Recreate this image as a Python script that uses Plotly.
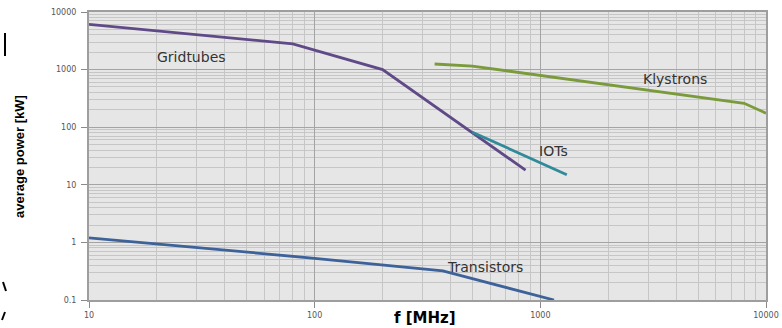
import math
import plotly.graph_objects as go

# Data (frequency in MHz, average power in kW)
grid_f = [10, 80, 200, 860]
grid_p = [6100, 2800, 1000, 18]

kly_f = [340, 500, 8000, 10000]
kly_p = [1250, 1150, 260, 175]

iot_f = [500, 1310]
iot_p = [82, 15]

tr_f = [10, 100, 370, 1150]
tr_p = [1.2, 0.53, 0.32, 0.1]

x_ticks = [10, 100, 1000, 10000]
x_ticktext = ["10", "100", "1000", "10000"]
y_ticks = [0.1, 1, 10, 100, 1000, 10000]
y_ticktext = ["0.1", "1", "10", "100", "1000", "10000"]

labels = ["Gridtubes", "Klystrons", "IOTs", "Transistors"]
label_f = [28.6, 3950, 1140, 570]
label_p = [1650, 690, 38.6, 0.374]

x_minor = [m * d for d in [10, 100, 1000] for m in range(2, 10)]
y_minor = [m * d for d in [0.1, 1, 10, 100, 1000] for m in range(2, 10)]

fig = go.Figure()
lw = 2.8
fig.add_trace(go.Scatter(x=grid_f, y=grid_p, mode="lines", line=dict(color="#5f4a87", width=lw)))
fig.add_trace(go.Scatter(x=kly_f, y=kly_p, mode="lines", line=dict(color="#7a9a3c", width=lw)))
fig.add_trace(go.Scatter(x=iot_f, y=iot_p, mode="lines", line=dict(color="#2f8a9a", width=lw)))
fig.add_trace(go.Scatter(x=tr_f, y=tr_p, mode="lines", line=dict(color="#3d6199", width=lw)))

lab_font = dict(family="DejaVu Sans", size=14, color="#333333")
for txt, x, y in zip(labels, label_f, label_p):
    fig.add_annotation(x=math.log10(x), y=math.log10(y), xref="x", yref="y", text=txt,
                       showarrow=False, font=lab_font, xanchor="center", yanchor="middle")

axis_common = dict(
    type="log", showline=True, linecolor="#9e9e9e", linewidth=2, mirror=True,
    showgrid=True, gridcolor="#a4a4a4", gridwidth=1.3,
    ticks="outside", ticklen=6, tickcolor="#8a8a8a",
    tickfont=dict(family="DejaVu Sans", size=8, color="#555555"),
    zeroline=False, automargin=False,
)

fig.update_xaxes(
    **axis_common, range=[1, 4], tickvals=x_ticks, ticktext=x_ticktext,
    minor=dict(tickvals=x_minor, showgrid=True, gridcolor="#c6c6c6", gridwidth=1.3, ticks=""),
)
fig.update_yaxes(
    **axis_common, range=[-1, 4], tickvals=y_ticks, ticktext=y_ticktext, ticklabelstandoff=3,
    minor=dict(tickvals=y_minor, showgrid=True, gridcolor="#c6c6c6", gridwidth=1.3, ticks=""),
)

def px(x, y):
    return (x - 89) / 677, (300 - y) / 288

# axis titles
ax, ay = px(425, 318)
fig.add_annotation(x=ax, y=ay, xref="paper", yref="paper", text="<b>f [MHz]</b>", showarrow=False,
                   font=dict(family="DejaVu Sans", size=15, color="#000"), xanchor="center", yanchor="middle")
ax, ay = px(19, 157)
fig.add_annotation(x=ax, y=ay, xref="paper", yref="paper", text="<b>average power [kW]</b>", showarrow=False,
                   textangle=-90,
                   font=dict(family="Liberation Sans Narrow, Liberation Sans", size=13, color="#000"),
                   xanchor="center", yanchor="middle")

shapes = []
for (x0, y0, x1, y1) in [(5, 33, 5, 56), (3, 282, 6, 291), (5, 312, 2, 320)]:
    a0, b0 = px(x0, y0)
    a1, b1 = px(x1, y1)
    shapes.append(dict(type="line", xref="paper", yref="paper", x0=a0, y0=b0, x1=a1, y1=b1,
                       line=dict(color="#000", width=2)))

fig.update_layout(
    width=782, height=328,
    margin=dict(l=89, r=16, t=12, b=28, autoexpand=False),
    paper_bgcolor="white", plot_bgcolor="#e6e6e6",
    showlegend=False, shapes=shapes,
)

fig.write_html("out.html")
